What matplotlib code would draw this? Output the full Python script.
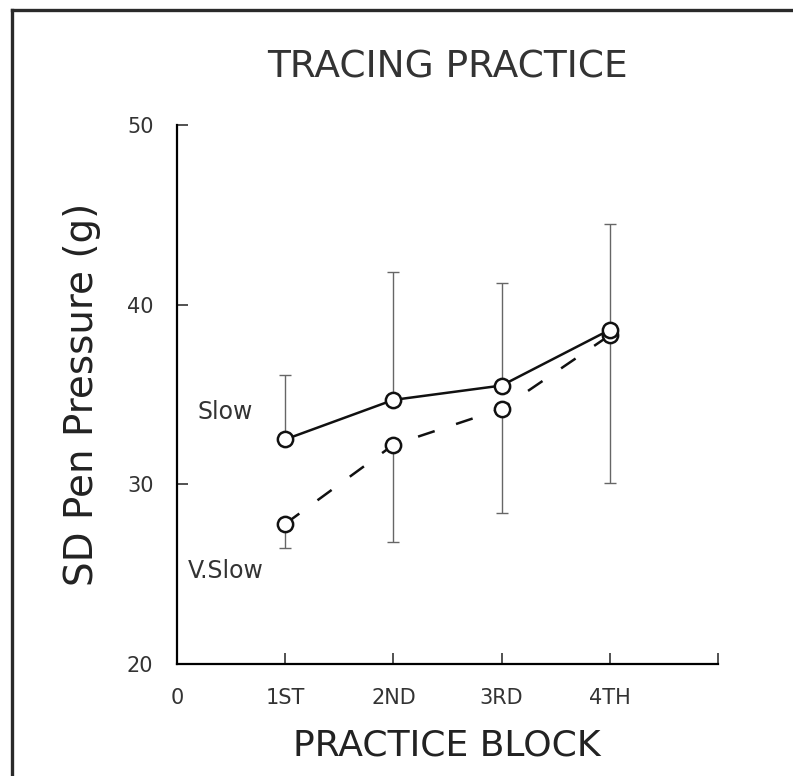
import matplotlib
matplotlib.use('Agg')
import matplotlib.pyplot as plt
from matplotlib.lines import Line2D

# data
blocks = [1, 2, 3, 4]
block_labels = ['0', '1ST', '2ND', '3RD', '4TH', '']
slow = [32.5, 34.7, 35.5, 38.6]
slow_err_up = [36.1, 41.8, 41.2, 44.5]
vslow = [27.8, 32.2, 34.2, 38.3]
vslow_err_down = [26.45, 26.8, 28.4, 30.1]

plt.rcParams['font.family'] = ['DejaVu Sans']

fig = plt.figure(figsize=(7.93, 7.76), dpi=100)
ax = fig.add_axes([0.2232, 0.1443, 0.6822, 0.6946])

# error bars: slow goes up, v.slow goes down
up = [t - v for t, v in zip(slow_err_up, slow)]
down = [v - b for v, b in zip(vslow, vslow_err_down)]
ax.errorbar(blocks, slow, yerr=[[0] * 4, up], fmt='none', ecolor='#666666',
            elinewidth=1.0, capsize=4, capthick=1.0, zorder=1)
ax.errorbar(blocks, vslow, yerr=[down, [0] * 4], fmt='none', ecolor='#666666',
            elinewidth=1.0, capsize=4, capthick=1.0, zorder=1)

ax.plot(blocks, slow, color='#111111', lw=1.8, marker='o', ms=11,
        mfc='white', mec='#111111', mew=1.8, zorder=3)
ax.plot(blocks, vslow, color='#111111', lw=1.8, dashes=(7, 9), marker='o', ms=11,
        mfc='white', mec='#111111', mew=1.8, zorder=2)

ax.text(0.185, 34.0, 'Slow', fontsize=17, va='center', ha='left', color='#333333')
ax.text(0.10, 25.2, 'V.Slow', fontsize=17, va='center', ha='left', color='#333333')

ax.set_xlim(0, 5)
ax.set_ylim(20, 50)
ax.set_xticks(range(6))
ax.set_xticklabels(block_labels)
ax.set_yticks([20, 30, 40, 50])
ax.tick_params(direction='in', length=8, width=1.2, pad=17, labelsize=15,
               colors='#333333')
ax.spines['top'].set_visible(False)
ax.spines['right'].set_visible(False)
ax.spines['left'].set_linewidth(1.6)
ax.spines['bottom'].set_linewidth(1.6)

fig.text(0.5637, 0.9124, 'TRACING PRACTICE', fontsize=27, ha='center', va='center',
         color='#333333')
fig.text(0.5637, 0.0387, 'PRACTICE BLOCK', fontsize=26, ha='center', va='center',
         color='#222222')
fig.text(0.1034, 0.4923, 'SD Pen Pressure (g)', fontsize=28, ha='center', va='center',
         rotation=90, color='#222222')

# frame around the figure (right and bottom edges run off the picture)
fig.add_artist(Line2D([11.5 / 793, 1.01], [1 - 9.5 / 776] * 2, transform=fig.transFigure,
                      color='#2a2a2a', lw=2.4))
fig.add_artist(Line2D([11.5 / 793] * 2, [1 - 9.5 / 776, -0.01], transform=fig.transFigure,
                      color='#2a2a2a', lw=2.4))

fig.savefig('out.png', dpi=100)
